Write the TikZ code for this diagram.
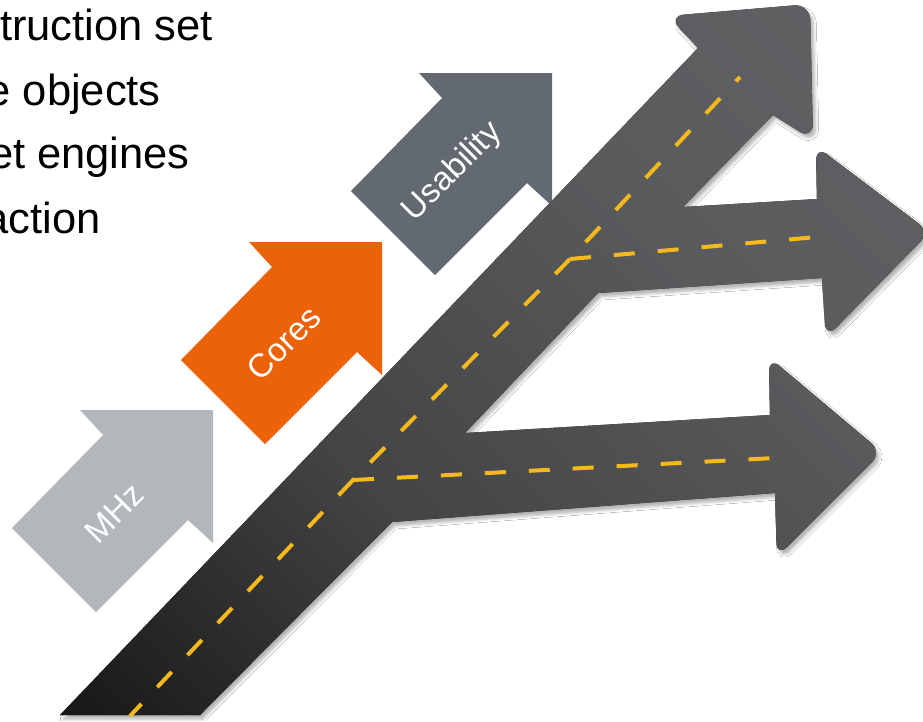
\documentclass[tikz,border=0pt]{standalone}
\usepackage{fontspec}
\setmainfont{Liberation Sans}
\usetikzlibrary{shadows.blur}
\definecolor{mhzc}{HTML}{B2B7BC}
\definecolor{coresc}{HTML}{EB6209}
\definecolor{usabc}{HTML}{636971}
\definecolor{rb}{HTML}{141414}
\definecolor{rm}{HTML}{444446}
\definecolor{rt}{HTML}{5A5B5D}
\definecolor{rtt}{HTML}{626366}
\definecolor{lane}{HTML}{F6B91B}
\tikzset{
  bigarrow/.style={insert path={++(-133,0) -- ++(133,0) -- ++(0,133) -- ++(-25,-23) -- ++(-92,92) -- ++(-84,-84) -- ++(91,-93) -- cycle}},
  road/.style={insert path={(60,715) -- (698,48) [rounded corners=16pt] -- (668,16) -- (810,4) -- (813,140) [sharp corners] -- (773,115) -- (683,207) -- (817,199) [rounded corners=14pt] -- (816,146) -- (930,232) -- (826,338) [sharp corners] -- (822,278) -- (598,293) -- (465,433) -- (770,415) [rounded corners=14pt] -- (769,357) -- (882,452) -- (777,557) [sharp corners] -- (775,493) -- (392,522) -- (200,715) -- cycle}},
  lanemark/.style={draw=lane, line width=4pt, dash pattern=on 21pt off 23pt},
  toptext/.style={anchor=base east, inner sep=0pt, text=black, font=\fontsize{43.5}{50}\selectfont},
  arrowtext/.style={text=white, rotate=45, inner sep=0pt, font=\fontsize{33}{40}\selectfont}
}
\begin{document}
\begin{tikzpicture}[x=1pt,y=-1pt]
\useasboundingbox (0,0) rectangle (923,721);
\fill[white] (0,0) rectangle (923,721);
\clip (0,0) rectangle (923,721);
% text lines
\node[toptext] (t1) at (213,40) {truction set};
\node[toptext] (t2) at (161,105) {e objects};
\node[toptext] (t3) at (190,168) {et engines};
\node[toptext] (t4) at (101,233) {action};
% coloured arrows
\path[fill=mhzc] (213,410) [bigarrow];
\path[fill=coresc] (382,242) [bigarrow];
\path[fill=usabc] (552,73) [bigarrow];
\node[arrowtext] (mhz) at (114,513) {MHz};
\node[arrowtext] (cores) at (284,343) {Cores};
\node[arrowtext] (usab) at (453,172) {Usability};
% road
\path[fill=rb, blur shadow={shadow xshift=3pt, shadow yshift=-4pt, shadow blur radius=3pt, shadow opacity=30}] [road];
\begin{scope}
\clip [road];
\foreach \s in {-700,-688,...,-136} {
  \pgfmathtruncatemacro\t{(\s+700)/576*100}
  \fill[rm!\t!rb] ({\s-60},-60) -- ({\s+800},800) -- ({\s+813},800) -- ({\s-47},-60) -- cycle;
}
\foreach \s in {-124,-112,...,440} {
  \pgfmathtruncatemacro\t{(\s+124)/564*100}
  \fill[rt!\t!rm] ({\s-60},-60) -- ({\s+800},800) -- ({\s+813},800) -- ({\s-47},-60) -- cycle;
}
\foreach \s in {452,464,...,956} {
  \pgfmathtruncatemacro\t{(\s-452)/504*100}
  \fill[rtt!\t!rt] ({\s-60},-60) -- ({\s+800},800) -- ({\s+813},800) -- ({\s-47},-60) -- cycle;
}
\end{scope}
% lane markings
\coordinate (J2) at (353,480);
\coordinate (J1) at (570,259);
\coordinate (B0) at (130,716);
\coordinate (TopE) at (740,77);
\coordinate (E1) at (817,237);
\coordinate (E2) at (775,458);
\draw[lanemark] (J2) -- (B0);
\draw[lanemark] (J1) -- (J2);
\draw[lanemark, dash phase=21pt] (J1) -- (TopE);
\draw[lanemark] (J2) -- (E2);
\draw[lanemark] (J1) -- (E1);
\end{tikzpicture}
\end{document}
